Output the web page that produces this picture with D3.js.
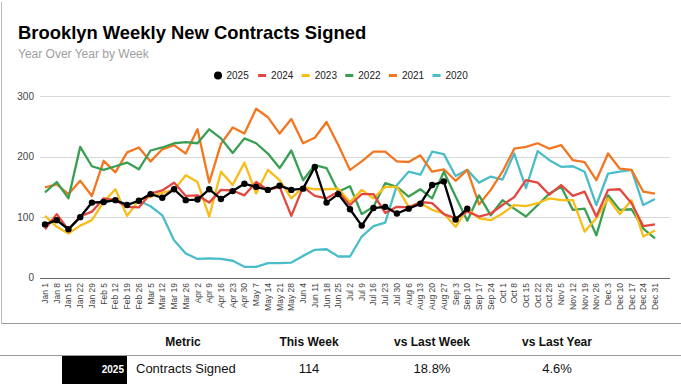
<!DOCTYPE html>
<html>
  <head>
    <script src="https://d3js.org/d3.v7.min.js"></script>
    <style>
      body { margin: 0; background: #fff; }
      svg { font-family: "Liberation Sans", Arial, sans-serif; display: block; }
      .grid line { stroke: #d9d9d9; }
      .xlab { font-size: 8.5px; fill: #444; }
      .ylab { font-size: 10px; fill: #444; }
    </style>
  </head>
  <body>
    <script>
      // week labels (x axis)
      var weeks = ["Jan 1","Jan 8","Jan 15","Jan 22","Jan 29","Feb 5","Feb 12","Feb 19","Feb 26",
        "Mar 5","Mar 12","Mar 19","Mar 26","Apr 2","Apr 9","Apr 16","Apr 23","Apr 30",
        "May 7","May 14","May 21","May 28","Jun 4","Jun 11","Jun 18","Jun 25",
        "Jul 2","Jul 9","Jul 16","Jul 23","Jul 30","Aug 6","Aug 13","Aug 20","Aug 27",
        "Sep 3","Sep 10","Sep 17","Sep 24","Oct 1","Oct 8","Oct 15","Oct 22","Oct 29",
        "Nov 5","Nov 12","Nov 19","Nov 26","Dec 3","Dec 10","Dec 17","Dec 24","Dec 31"];

      var years = ["2025","2024","2023","2022","2021","2020"];
      var colors = ["#000000","#e2483d","#f8bd19","#3a9f52","#f37621","#4bbdc8"];
      var yTicks = [0, 100, 200, 300];

      // weekly contracts per year
      var v2025 = [88,95,80,100,124,125,128,120,127,138,132,146,128,129,146,130,143,155,
        150,145,152,145,147,183,124,138,113,86,115,117,106,114,122,153,159,96,114];
      var v2024 = [80,105,79,101,109,131,128,117,116,139,144,157,135,136,124,145,144,136,
        158,145,150,102,150,135,131,142,120,138,138,107,117,116,125,123,105,
        98,109,101,106,120,133,161,157,137,153,135,142,101,145,146,123,85,88];
      var v2023 = [102,84,73,86,95,125,146,102,128,134,140,145,169,158,101,175,153,190,
        139,178,161,131,150,146,146,147,125,145,131,150,150,117,123,112,106,
        84,114,98,95,106,120,118,123,131,128,128,76,98,131,105,128,68,78];
      var v2022 = [141,158,131,216,184,178,184,190,179,210,215,222,224,222,245,230,206,230,
        222,205,181,210,161,186,181,142,151,105,117,156,150,134,146,131,175,
        134,94,136,103,128,114,101,120,139,150,112,114,70,136,112,113,81,65];
      var v2021 = [149,154,138,160,135,193,174,207,215,192,212,219,205,245,157,221,248,238,
        279,265,238,262,222,231,257,219,178,192,208,208,192,191,202,175,179,
        160,178,121,145,175,213,216,222,213,219,194,191,161,205,180,178,142,139];
      var v2020 = [88,95,80,100,124,125,128,120,127,118,103,62,40,31,32,31,28,18,
        18,24,24,25,36,46,47,35,35,68,85,91,153,175,170,208,204,
        168,178,157,167,162,205,148,209,194,183,184,175,120,172,175,178,120,130];
      var series = [v2025, v2024, v2023, v2022, v2021, v2020];

      // table
      var tableHead = ["Metric", "This Week", "vs Last Week", "vs Last Year"];
      var tableRow = ["Contracts Signed", "114", "18.8%", "4.6%"];

      var W = 681, H = 384;
      var svg = d3.select("body").append("svg").attr("width", W).attr("height", H);

      // card frame
      svg.append("line").attr("x1", 1.5).attr("x2", 1.5).attr("y1", 2).attr("y2", 323)
        .attr("stroke", "#bbb");
      svg.append("line").attr("x1", 1.5).attr("x2", W).attr("y1", 323.5).attr("y2", 323.5)
        .attr("stroke", "#999");

      svg.append("text").attr("x", 18).attr("y", 39)
        .style("font-size", "18.4px").style("font-weight", "bold").attr("fill", "#000")
        .text("Brooklyn Weekly New Contracts Signed");
      svg.append("text").attr("x", 18).attr("y", 58)
        .style("font-size", "12px").attr("fill", "#9e9e9e")
        .text("Year Over Year by Week");

      var x = d3.scalePoint().domain(weeks).range([45, 655]);
      var y = d3.scaleLinear().domain([0, 300]).range([277.7, 96]);

      // gridlines
      svg.append("g").attr("class", "grid")
        .selectAll("line").data(yTicks.filter(function(d) { return d > 0; }))
        .enter().append("line")
        .attr("x1", 40).attr("x2", 670)
        .attr("y1", function(d) { return Math.round(y(d)) + 0.5; })
        .attr("y2", function(d) { return Math.round(y(d)) + 0.5; });
      svg.append("line").attr("x1", 40).attr("x2", 670)
        .attr("y1", Math.round(y(0)) + 0.5).attr("y2", Math.round(y(0)) + 0.5)
        .attr("stroke", "#666");

      svg.selectAll(".ylab").data(yTicks).enter().append("text")
        .attr("class", "ylab")
        .attr("x", 34).attr("y", function(d) { return y(d); })
        .attr("dy", "0.35em").attr("text-anchor", "end")
        .text(function(d) { return d; });

      svg.selectAll(".xlab").data(weeks).enter().append("text")
        .attr("class", "xlab")
        .attr("text-anchor", "end")
        .attr("transform", function(d) { return "translate(" + (x(d) + 3) + ",283) rotate(-90)"; })
        .text(function(d) { return d; });

      // lines, 2020 first so 2025 ends on top
      var line = d3.line()
        .x(function(d, i) { return x(weeks[i]); })
        .y(function(d) { return y(d); });

      for (var k = series.length - 1; k >= 0; k--) {
        svg.append("path")
          .datum(series[k])
          .attr("d", line)
          .attr("fill", "none")
          .attr("stroke", colors[k])
          .attr("stroke-width", 2.3)
          .attr("stroke-linejoin", "round");
      }

      svg.selectAll(".dot").data(v2025).enter().append("circle")
        .attr("cx", function(d, i) { return x(weeks[i]); })
        .attr("cy", function(d) { return y(d); })
        .attr("r", 3.2)
        .attr("fill", "#000");

      // legend
      var leg = svg.append("g").attr("transform", "translate(218,75.5)");
      years.forEach(function(yr, i) {
        var g = leg.append("g").attr("transform", "translate(" + (i * 43.6) + ",0)");
        if (i == 0) {
          g.append("circle").attr("cx", 0).attr("cy", 0).attr("r", 4).attr("fill", colors[i]);
        } else {
          g.append("line").attr("x1", -3.5).attr("x2", 4.5).attr("y1", 0).attr("y2", 0)
            .attr("stroke", colors[i]).attr("stroke-width", 3);
        }
        g.append("text").attr("x", i == 0 ? 8.5 : 9.5).attr("dy", "0.35em")
          .style("font-size", "10px").attr("fill", "#222").text(yr);
      });

      // summary table
      var colX = [183, 309, 432, 557];
      svg.selectAll(".th").data(tableHead).enter().append("text")
        .attr("x", function(d, i) { return colX[i]; })
        .attr("y", 346).attr("text-anchor", "middle")
        .style("font-size", "12px").style("font-weight", "bold").attr("fill", "#111")
        .text(function(d) { return d; });
      svg.append("line").attr("x1", 0).attr("x2", W).attr("y1", 355.5).attr("y2", 355.5)
        .attr("stroke", "#999");

      svg.append("rect").attr("x", 62).attr("y", 356).attr("width", 65).attr("height", 28)
        .attr("fill", "#000");
      svg.append("text").attr("x", 124).attr("y", 373).attr("text-anchor", "end")
        .style("font-size", "10px").style("font-weight", "bold").attr("fill", "#fff")
        .text(years[0]);

      svg.selectAll(".td").data(tableRow).enter().append("text")
        .attr("x", function(d, i) { return i == 0 ? 136 : colX[i]; })
        .attr("y", 373)
        .attr("text-anchor", function(d, i) { return i == 0 ? "start" : "middle"; })
        .style("font-size", "13px").attr("fill", "#111")
        .text(function(d) { return d; });
    </script>
  </body>
</html>
